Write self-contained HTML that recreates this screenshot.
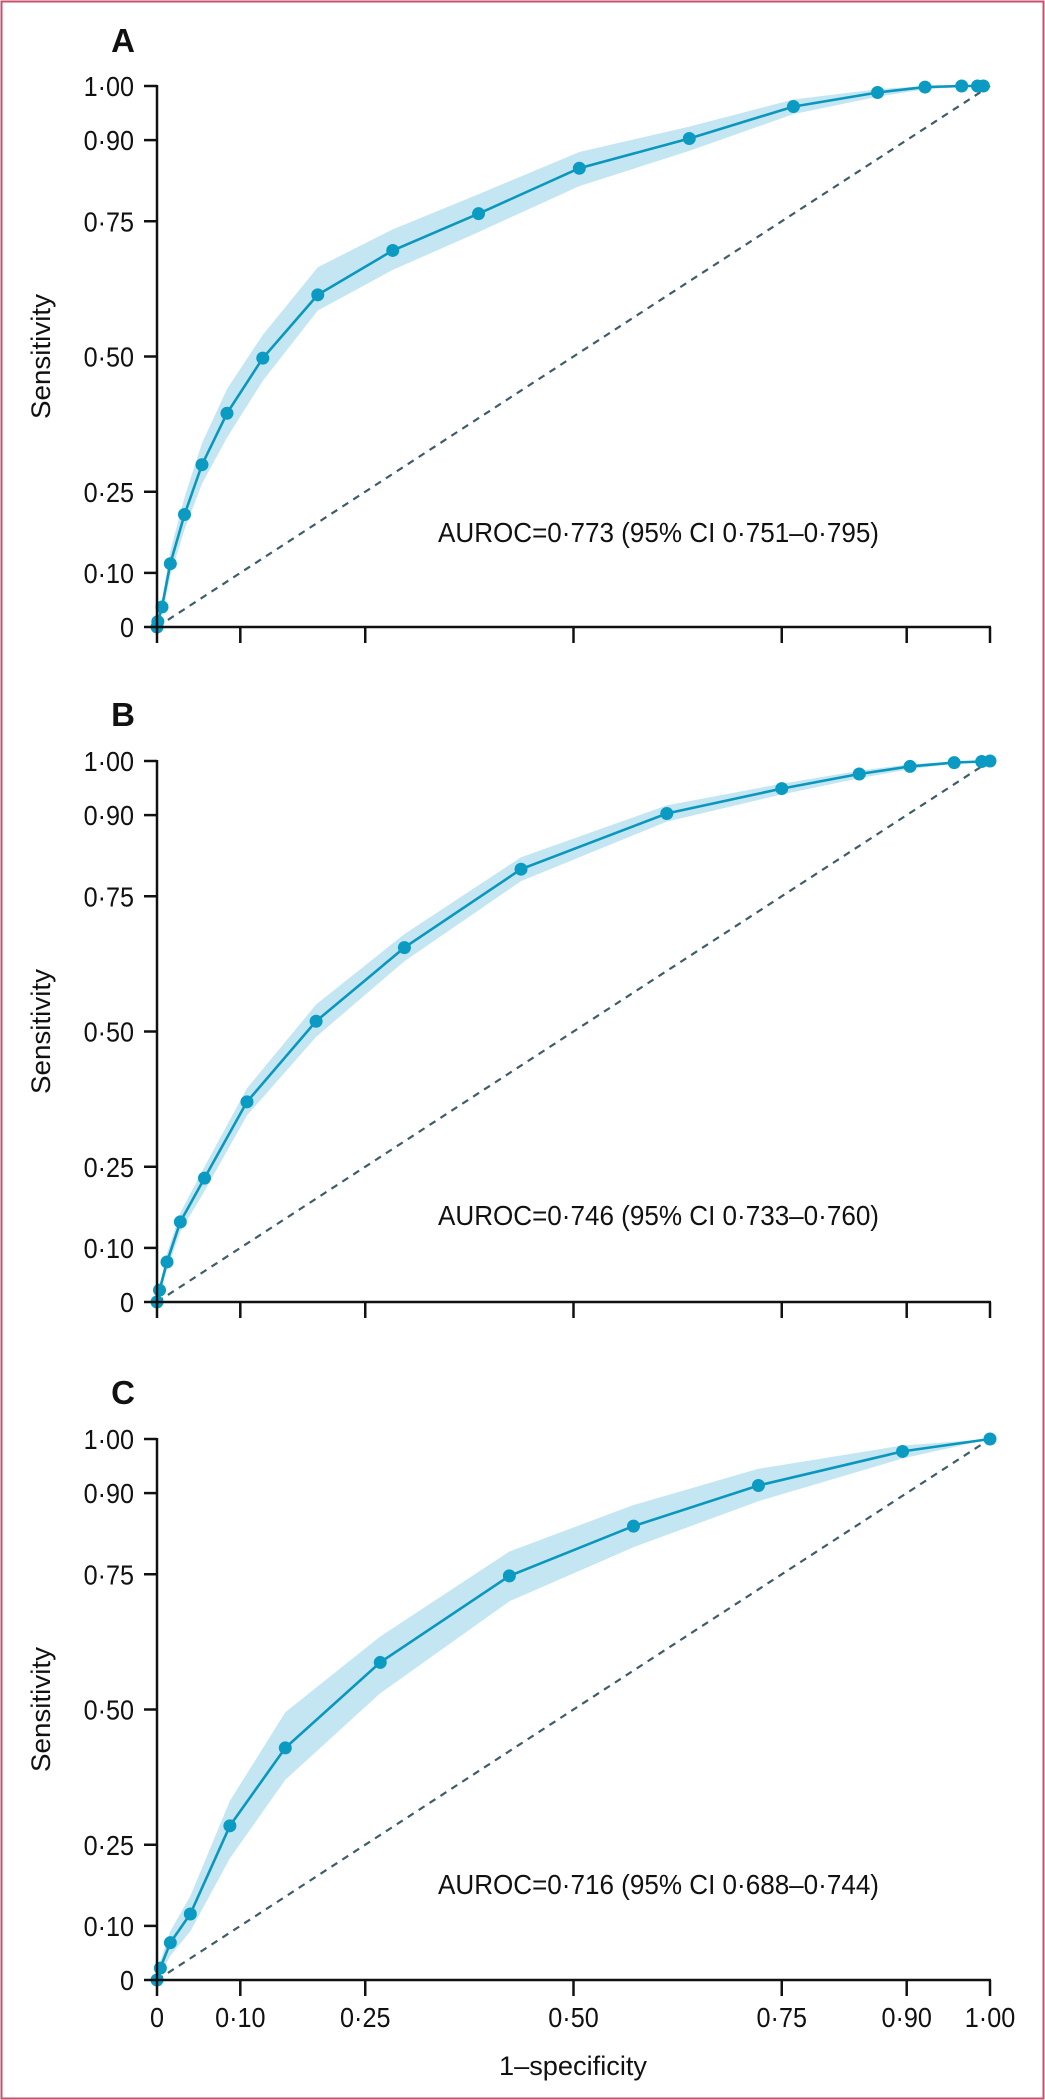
<!DOCTYPE html>
<html><head><meta charset="utf-8"><style>
html,body{margin:0;padding:0;background:#fff;}
svg{display:block;font-family:"Liberation Sans",sans-serif;}
</style></head><body>
<svg id="fig" width="1045" height="2100" viewBox="0 0 1045 2100" xmlns="http://www.w3.org/2000/svg">
<rect x="1.5" y="1.5" width="1042" height="2097" fill="none" stroke="#c9506c" stroke-width="2"/>
</svg>
<script>
// Shared ticks
const tickVals = [0, 0.10, 0.25, 0.50, 0.75, 0.90, 1.00];
const tickLabels = ["0", "0·10", "0·25", "0·50", "0·75", "0·90", "1·00"];
const panelLetters = ["A", "B", "C"];
const aucLabels = ["AUROC=0·773 (95% CI 0·751–0·795)", "AUROC=0·746 (95% CI 0·733–0·760)", "AUROC=0·716 (95% CI 0·688–0·744)"];

// Panel A
const aFpr = [0, 0.001, 0.006, 0.016, 0.033, 0.054, 0.084, 0.127, 0.193, 0.283, 0.386, 0.507, 0.639, 0.764, 0.865, 0.922, 0.966, 0.985, 0.992];
const aTpr = [0, 0.01, 0.037, 0.117, 0.208, 0.30, 0.395, 0.497, 0.614, 0.696, 0.764, 0.848, 0.903, 0.962, 0.988, 0.998, 1.0, 1.0, 1.0];
const aUp  = [0, 0.02, 0.05, 0.14, 0.24, 0.34, 0.44, 0.54, 0.665, 0.735, 0.80, 0.878, 0.925, 0.975, 0.994, 1.0, 1.0, 1.0, 1.0];
const aLo  = [0, 0.0, 0.025, 0.095, 0.18, 0.265, 0.35, 0.455, 0.585, 0.66, 0.73, 0.815, 0.88, 0.948, 0.98, 0.994, 0.998, 1.0, 1.0];

// Panel B
const bFpr = [0, 0.003, 0.012, 0.028, 0.057, 0.108, 0.191, 0.297, 0.437, 0.612, 0.75, 0.843, 0.904, 0.957, 0.99, 1.0];
const bTpr = [0, 0.022, 0.074, 0.148, 0.229, 0.370, 0.519, 0.655, 0.80, 0.903, 0.949, 0.976, 0.99, 0.997, 0.999, 1.0];
const bUp  = [0, 0.03, 0.09, 0.165, 0.25, 0.395, 0.55, 0.68, 0.822, 0.918, 0.958, 0.982, 0.994, 0.999, 1.0, 1.0];
const bLo  = [0, 0.012, 0.06, 0.13, 0.205, 0.345, 0.49, 0.63, 0.778, 0.888, 0.938, 0.968, 0.985, 0.995, 0.998, 1.0];

// Panel C
const cFpr = [0, 0.004, 0.016, 0.040, 0.0875, 0.154, 0.268, 0.423, 0.572, 0.722, 0.895, 1.0];
const cTpr = [0, 0.022, 0.069, 0.122, 0.285, 0.429, 0.587, 0.747, 0.839, 0.914, 0.977, 1.0];
const cUp  = [0, 0.035, 0.09, 0.155, 0.331, 0.495, 0.635, 0.792, 0.878, 0.945, 0.988, 1.0];
const cLo  = [0, 0.01, 0.045, 0.09, 0.225, 0.37, 0.53, 0.70, 0.80, 0.885, 0.964, 1.0];

const NS = "http://www.w3.org/2000/svg";
const svg = document.getElementById("fig");
const X0 = 157, X1 = 990;
const panels = [
  {y0: 627, y1: 86, letterY: 52, aucY: 542, fpr: aFpr, tpr: aTpr, up: aUp, lo: aLo, name: "a"},
  {y0: 1302, y1: 761, letterY: 726, aucY: 1225, fpr: bFpr, tpr: bTpr, up: bUp, lo: bLo, name: "b"},
  {y0: 1980, y1: 1439, letterY: 1404, aucY: 1894, fpr: cFpr, tpr: cTpr, up: cUp, lo: cLo, name: "c"}
];
function mk(tag, attrs, parent) {
  const e = document.createElementNS(NS, tag);
  for (const k in attrs) e.setAttribute(k, attrs[k]);
  (parent || svg).appendChild(e);
  return e;
}
panels.forEach((p, i) => {
  const sx = v => X0 + v * (X1 - X0);
  const sy = v => p.y0 - v * (p.y0 - p.y1);
  const g = mk("g", {});
  
  

  let d = "";
  p.fpr.forEach((f, k) => { d += (k ? "L" : "M") + sx(f).toFixed(1) + "," + sy(p.up[k]).toFixed(1); });
  for (let k = p.fpr.length - 1; k >= 0; k--) d += "L" + sx(p.fpr[k]).toFixed(1) + "," + sy(p.lo[k]).toFixed(1);
  const band = mk("path", {d: d + "Z", fill: "#c3e6f2", stroke: "none"}, g);
  
  

  const diag = mk("line", {x1: sx(0), y1: sy(0), x2: sx(1), y2: sy(1), stroke: "#3f5d69", "stroke-width": 2.2, "stroke-dasharray": "7,6"}, g);
  
  

  let ld = "";
  p.fpr.forEach((f, k) => { ld += (k ? "L" : "M") + sx(f).toFixed(1) + "," + sy(p.tpr[k]).toFixed(1); });
  const line = mk("path", {d: ld, fill: "none", stroke: "#0b97bd", "stroke-width": 2.6}, g);
  
  
  p.fpr.forEach((f, k) => {
    const c = mk("circle", {cx: sx(f), cy: sy(p.tpr[k]), r: 6.5, fill: "#0b9bc2"}, g);
    
    
  });

  const ya = mk("line", {x1: X0, y1: sy(1) - 1, x2: X0, y2: p.y0 + 1, stroke: "#111", "stroke-width": 2.5}, g);
  
  
  const xa = mk("line", {x1: X0 - 1, y1: p.y0, x2: X1 + 1, y2: p.y0, stroke: "#111", "stroke-width": 2.5}, g);
  
  
  tickVals.forEach((v, k) => {
    const yt = mk("line", {x1: X0 - 13, y1: sy(v), x2: X0, y2: sy(v), stroke: "#111", "stroke-width": 2.5}, g);
    
    
    const yl = mk("text", {transform: "translate(134," + (sy(v) + 10) + ") scale(0.9,1)", "text-anchor": "end", "font-size": 28, fill: "#111"}, g);
    yl.textContent = tickLabels[k];
    
    
    const xt = mk("line", {x1: sx(v), y1: p.y0, x2: sx(v), y2: p.y0 + 16, stroke: "#111", "stroke-width": 2.5}, g);
    
    
    if (i === 2) {
      const xl = mk("text", {transform: "translate(" + sx(v) + "," + (p.y0 + 47) + ") scale(0.9,1)", "text-anchor": "middle", "font-size": 28, fill: "#111"}, g);
      xl.textContent = tickLabels[k];
      
      
    }
  });
  const yt = mk("text", {transform: "translate(50," + ((p.y0 + p.y1) / 2) + ") rotate(-90)", "text-anchor": "middle", "font-size": 27, fill: "#111", textLength: 125, lengthAdjust: "spacingAndGlyphs"}, g);
  yt.textContent = "Sensitivity";
  
  
  const lt = mk("text", {x: 123, y: p.letterY, "text-anchor": "middle", "font-size": 33, "font-weight": "bold", fill: "#111"}, g);
  lt.textContent = panelLetters[i];
  
  
  const at = mk("text", {x: 438, y: p.aucY, "font-size": 28, fill: "#111", textLength: 441, lengthAdjust: "spacingAndGlyphs"}, g);
  at.textContent = aucLabels[i];
  
  
});
const xt = mk("text", {x: 573, y: 2075, "text-anchor": "middle", "font-size": 27, fill: "#111", textLength: 148, lengthAdjust: "spacingAndGlyphs"});
xt.textContent = "1–specificity";


</script>
</body></html>
